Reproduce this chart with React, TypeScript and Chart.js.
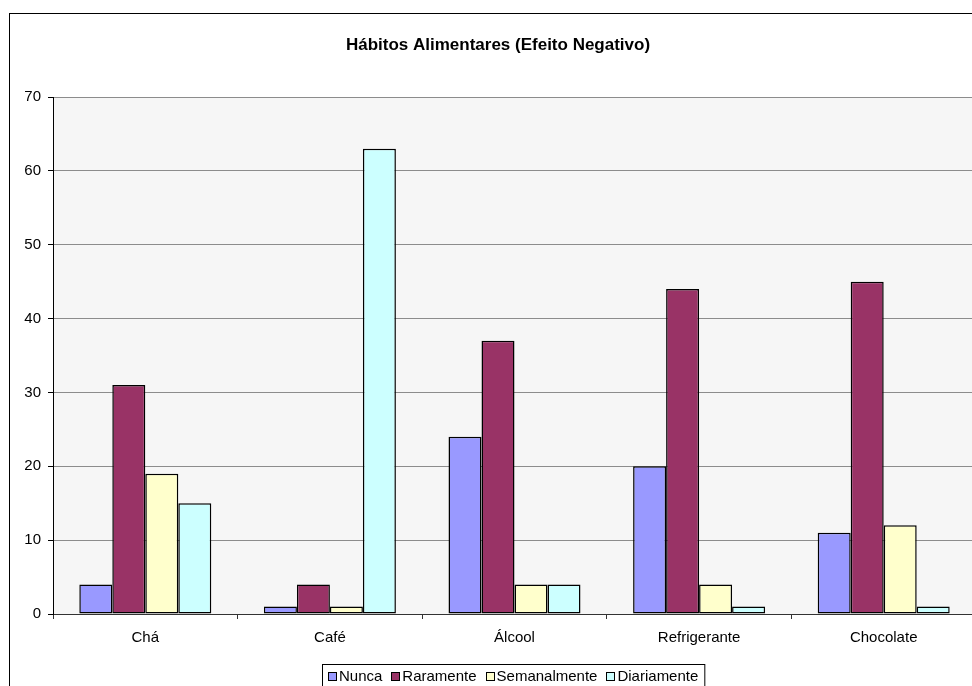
import React, { useEffect, useRef } from "react";
import { Chart, registerables } from "chart.js";

Chart.register(...registerables);

const categories = ["Chá", "Café", "Álcool", "Refrigerante", "Chocolate"];
const seriesNames = ["Nunca", "Raramente", "Semanalmente", "Diariamente"];
const nunca = [4, 1, 24, 20, 11];
const raramente = [31, 4, 37, 44, 45];
const semanalmente = [19, 1, 4, 4, 12];
const diariamente = [15, 63, 4, 1, 1];
const seriesColors = ["#9999FF", "#993366", "#FFFFCC", "#CCFFFF"];
const titleText = "Hábitos Alimentares (Efeito Negativo)";
const yMax = 70;
const yStep = 10;

const FONT = "'Liberation Sans', Arial, sans-serif";

const decorPlugin = {
  id: "decor",
  beforeDraw(chart: any) {
    const { ctx, chartArea } = chart;
    ctx.save();
    ctx.fillStyle = "#ffffff";
    ctx.fillRect(0, 0, chart.width, chart.height);
    ctx.fillStyle = "#f6f6f6";
    ctx.fillRect(chartArea.left, chartArea.top, chartArea.right - chartArea.left, chartArea.bottom - chartArea.top);
    ctx.restore();
  },
  afterDraw(chart: any) {
    const { ctx } = chart;
    ctx.save();
    // outer border
    ctx.strokeStyle = "#000";
    ctx.lineWidth = 1;
    ctx.strokeRect(9.5, 13.5, 1200, 1200);
    // title
    ctx.fillStyle = "#000";
    ctx.font = `bold 17px ${FONT}`;
    ctx.textAlign = "center";
    ctx.textBaseline = "middle";
    ctx.fillText(titleText, 498, 45);
    // legend
    ctx.font = `15px ${FONT}`;
    ctx.textAlign = "left";
    const markerSize = 9;
    const gapMarkerText = 2;
    const gapItems = 9;
    const padX = 6;
    let total = 0;
    const widths = seriesNames.map((n) => ctx.measureText(n).width);
    widths.forEach((w, i) => {
      total += markerSize + gapMarkerText + w + (i < widths.length - 1 ? gapItems : 0);
    });
    const boxW = total + padX * 2;
    const cx = 513;
    const boxL = Math.round(cx - boxW / 2);
    const boxT = 664;
    ctx.strokeStyle = "#000";
    ctx.strokeRect(boxL + 0.5, boxT + 0.5, boxW, 40);
    let x = Math.round(boxL + padX);
    const cy = 676;
    seriesNames.forEach((n, i) => {
      const mx = Math.round(x);
      ctx.fillStyle = seriesColors[i];
      ctx.fillRect(mx, cy - 4, markerSize, markerSize);
      ctx.strokeStyle = "#000";
      ctx.lineWidth = 1;
      ctx.strokeRect(mx + 0.5, cy - 3.5, markerSize - 1, markerSize - 1);
      x += markerSize + gapMarkerText;
      ctx.fillStyle = "#000";
      ctx.fillText(n, x, cy + 1);
      x += widths[i] + gapItems;
    });
    ctx.restore();
  },
};

export default function App() {
  const ref = useRef<HTMLCanvasElement | null>(null);
  useEffect(() => {
    if (!ref.current) return;
    const data = [nunca, raramente, semanalmente, diariamente];
    const chart = new Chart(ref.current, {
      type: "bar",
      data: {
        labels: categories,
        datasets: seriesNames.map((name, i) => ({
          label: name,
          data: data[i],
          backgroundColor: seriesColors[i],
          borderColor: "#000",
          borderWidth: 1.5,
          borderSkipped: false,
          barPercentage: 1,
          categoryPercentage: 0.715,
        })),
      },
      options: {
        responsive: false,
        animation: false,
        devicePixelRatio: 1,
        layout: { padding: { left: 0, top: 97, right: 24, bottom: 46 } },
        plugins: {
          legend: { display: false },
          title: { display: false },
          tooltip: { enabled: false },
        },
        scales: {
          x: {
            afterFit: (s: any) => {
              s.height = 40;
            },
            grid: {
              offset: true,
              drawOnChartArea: false,
              drawTicks: true,
              tickLength: 5,
              color: "#333",
              tickColor: "#333",
            },
            border: { display: true, color: "#333", width: 1 },
            ticks: {
              color: "#000",
              font: { family: FONT, size: 15 },
              padding: 10,
              maxRotation: 0,
            },
          },
          y: {
            min: 0,
            max: yMax,
            afterFit: (s: any) => {
              s.width = 53;
            },
            grid: {
              color: "#8c8c8c",
              tickColor: "#000",
              tickLength: 5,
            },
            border: { display: true, color: "#000", width: 1 },
            ticks: {
              stepSize: yStep,
              color: "#000",
              font: { family: FONT, size: 15 },
              padding: 7,
            },
          },
        },
      },
      plugins: [decorPlugin],
    });
    return () => chart.destroy();
  }, []);
  return (
    <div
      style={{
        position: "fixed",
        left: 0,
        top: 0,
        width: 972,
        height: 686,
        overflow: "hidden",
        background: "#fff",
      }}
    >
      <canvas ref={ref} width={1000} height={700} style={{ display: "block" }} />
    </div>
  );
}
